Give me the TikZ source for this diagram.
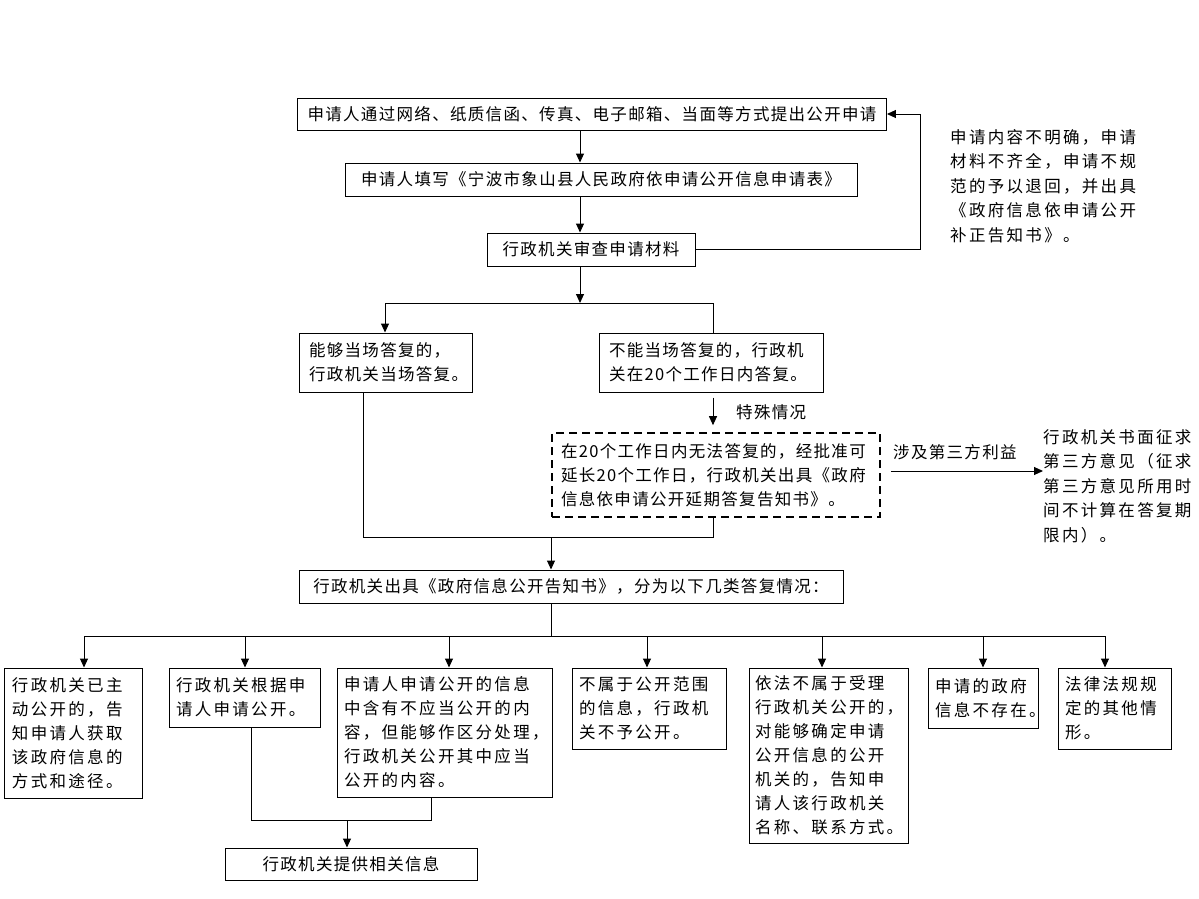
\documentclass[tikz,border=0pt]{standalone}
\usepackage{fontspec}
\setmainfont[LetterSpace=8]{Noto Sans CJK SC}
\newfontfamily\spaced[LetterSpace=14]{Noto Sans CJK SC}
\usetikzlibrary{arrows.meta}
\begin{document}
\begin{tikzpicture}[x=1pt,y=-1pt,
  box/.style={draw, line width=1pt, inner xsep=10pt, inner ysep=2pt, align=left,
    font=\fontsize{16.5}{24}\selectfont},
  bbox/.style={box, font=\spaced\fontsize{16.5}{24}\selectfont},
  cbox/.style={box, align=center},
  dbox/.style={box, dash pattern=on 8pt off 5pt, line width=1.6pt},
  arr/.style={-{Triangle[length=9pt,width=8pt]}, line width=1pt},
  ln/.style={line width=1pt},
  lbl/.style={font=\fontsize{16.5}{24}\selectfont, inner sep=0pt},
  side/.style={font=\spaced\fontsize{16.5}{24.5}\selectfont, align=left, inner sep=0pt}]
\useasboundingbox (0,0) rectangle (1199,899);
% column coordinates
\coordinate (ca) at (580,0);
\coordinate (fb) at (920,0);
\coordinate (cl) at (385,0);
\coordinate (cr) at (713,0);
\coordinate (cm) at (551,0);
\coordinate (cb) at (363,0);
% top chain
\node[cbox, minimum width=586pt, minimum height=32pt] (t1) at (592,114)
  {申请人通过网络、纸质信函、传真、电子邮箱、当面等方式提出公开申请};
\node[cbox, minimum width=512pt, minimum height=33pt] (t2) at (601,179.5)
  {申请人填写《宁波市象山县人民政府依申请公开信息申请表》};
\node[cbox, minimum width=208pt, minimum height=33pt] (t3) at (591,249.5)
  {行政机关审查申请材料};
\node[box, minimum width=173pt, minimum height=59pt, text width=153pt] (t4) at (385.5,362.5)
  {能够当场答复的，\\行政机关当场答复。};
\node[box, minimum width=224pt, minimum height=59pt, text width=204pt] (t5) at (711,362.5)
  {不能当场答复的，行政机\\关在20个工作日内答复。};
\node[dbox, minimum width=328pt, minimum height=84pt, text width=310pt, inner xsep=9pt] (t6) at (716,475)
  {在20个工作日内无法答复的，经批准可\\延长20个工作日，行政机关出具《政府\\信息依申请公开延期答复告知书》。};
\node[cbox, minimum width=544pt, minimum height=33pt] (t7) at (571,586.5)
  {行政机关出具《政府信息公开告知书》，分为以下几类答复情况：};
% side texts
\node[side, anchor=north west] (s1) at (950,129)
  {申请内容不明确，申请\\材料不齐全，申请不规\\范的予以退回，并出具\\《政府信息依申请公开\\补正告知书》。};
\node[side, anchor=north west] (s2) at (1043,429)
  {行政机关书面征求\\第三方意见（征求\\第三方意见所用时\\间不计算在答复期\\限内）。};
\node[lbl, anchor=west] (l1) at (736,412) {特殊情况};
\node[lbl, anchor=west] (l2) at (893,452) {涉及第三方利益};
% bottom boxes
\node[bbox, minimum width=138pt, minimum height=130pt, text width=122pt, inner xsep=8pt] (c1) at (73,733)
  {行政机关已主\\动公开的，告\\知申请人获取\\该政府信息的\\方式和途径。};
\node[bbox, minimum width=151pt, minimum height=59pt, text width=137pt, inner xsep=7pt] (c2) at (244.5,697.5)
  {行政机关根据申\\请人申请公开。};
\node[bbox, minimum width=215pt, minimum height=129pt, text width=201pt, inner xsep=7pt] (c3) at (444.5,732.5)
  {申请人申请公开的信息\\中含有不应当公开的内\\容，但能够作区分处理，\\行政机关公开其中应当\\公开的内容。};
\node[bbox, minimum width=154pt, minimum height=81pt, text width=140pt, inner xsep=7pt] (c4) at (649,708.5)
  {不属于公开范围\\的信息，行政机\\关不予公开。};
\node[bbox, minimum width=159pt, minimum height=175pt, text width=147pt, inner xsep=6pt] (c5) at (828.5,755.5)
  {依法不属于受理\\行政机关公开的，\\对能够确定申请\\公开信息的公开\\机关的，告知申\\请人该行政机关\\名称、联系方式。};
\node[bbox, minimum width=110pt, minimum height=60pt, text width=96pt, inner xsep=7pt] (c6) at (983,698)
  {申请的政府\\信息不存在。};
\node[bbox, minimum width=113pt, minimum height=81pt, text width=99pt, inner xsep=7pt] (c7) at (1114.5,708.5)
  {法律法规规\\定的其他情\\形。};
\node[cbox, minimum width=252pt, minimum height=32pt] (c8) at (351,864)
  {行政机关提供相关信息};
% connectors: top chain
\draw[arr] (t1.south -| ca) -- (t2.north -| ca);
\draw[arr] (t2.south -| ca) -- (t3.north -| ca);
\draw[arr] (t3.east) -- (t3.east -| fb) -- (fb |- t1.east) -- (t1.east);
\coordinate (sp) at (580,303);
\draw[arr] (t3.south -| ca) -- (sp);
\draw[ln] (sp -| cl) -- (sp -| cr);
\draw[arr] (sp -| cl) -- (t4.north -| cl);
\draw[ln] (sp -| cr) -- (t5.north -| cr);
\draw[arr, shorten <=5pt, shorten >=7pt] (t5.south -| cr) -- (t6.north -| cr);
\draw[arr, shorten <=10pt] (t6.east |- 0,471) -- (s2.west |- 0,471);
\coordinate (jn) at (551,537);
\draw[ln] (t4.south -| cb) -- (jn -| cb) -- (jn -| cr) -- (t6.south -| cr);
\draw[arr] (jn) -- (t7.north -| cm);
% split to bottom boxes
\coordinate (bl) at (551,636);
\draw[ln] (t7.south -| cm) -- (bl);
\draw[ln] (84,636) -- (1105,636);
\draw[arr] (84,636) -- (c1.north -| 84,0);
\draw[arr] (245,636) -- (c2.north -| 245,0);
\draw[arr] (449,636) -- (c3.north -| 449,0);
\draw[arr] (647,636) -- (c4.north -| 647,0);
\draw[arr] (822,636) -- (c5.north -| 822,0);
\draw[arr] (983,636) -- (c6.north -| 983,0);
\draw[arr] (1105,636) -- (c7.north -| 1105,0);
% merge to c8
\coordinate (mg) at (347,820);
\draw[ln] (c2.south -| 251,0) -- (mg -| 251,0) -- (mg -| 431,0) -- (c3.south -| 431,0);
\draw[arr] (mg) -- (c8.north -| mg);
\end{tikzpicture}
\end{document}
